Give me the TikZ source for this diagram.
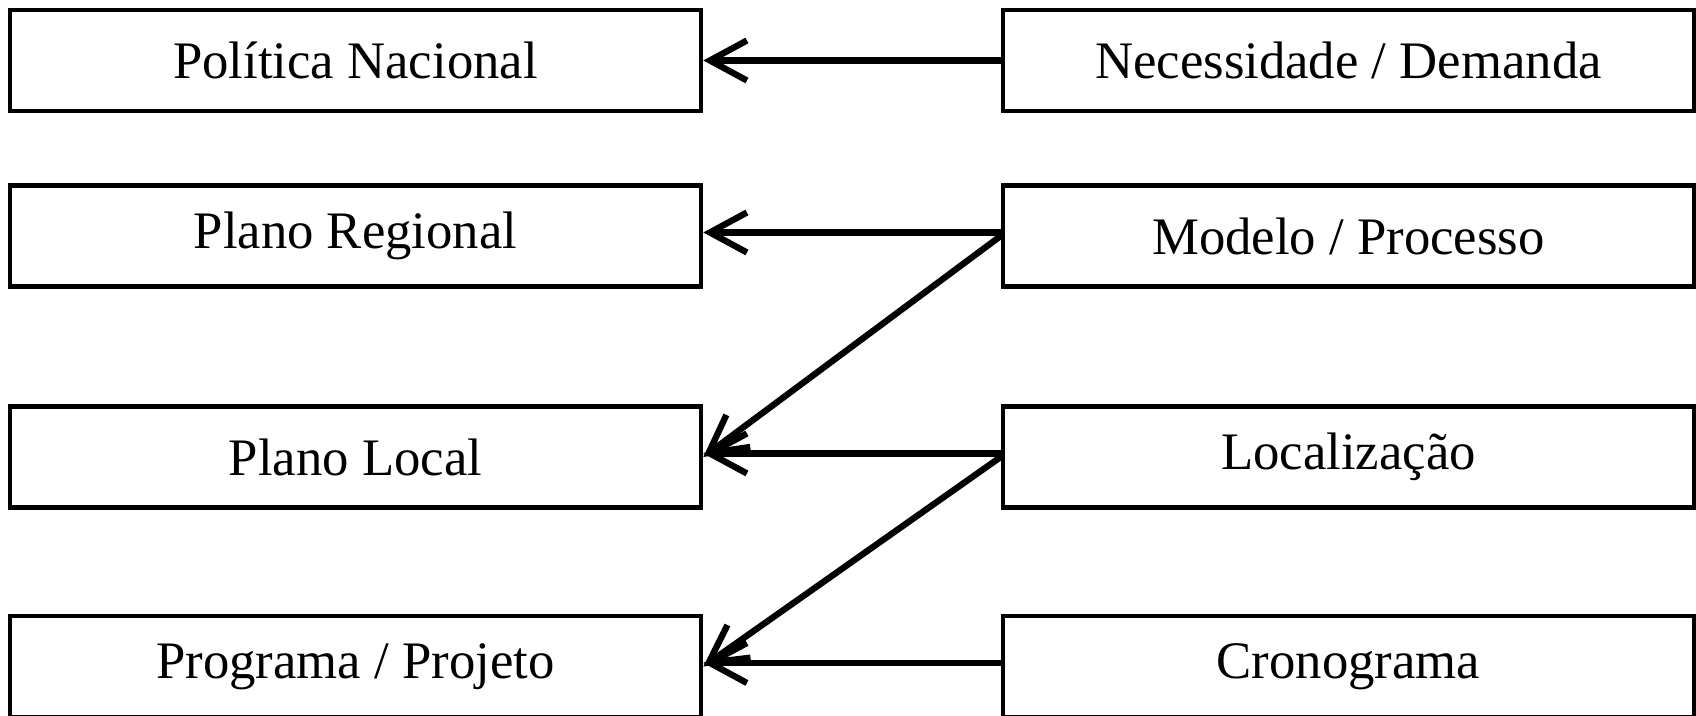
\documentclass[tikz,border=0pt]{standalone}
\usepackage{fontspec}
\setmainfont{Liberation Serif}
\usetikzlibrary{arrows.meta}
\begin{document}
\begin{tikzpicture}[
  caixa/.style={draw, line width=1.3pt, minimum width=6.91cm, minimum height=1.01cm, inner sep=0pt, font=\fontsize{15}{18}\selectfont},
  seta/.style={draw, line width=1.8pt, -{Straight Barb[length=0.37cm, width=0.4cm, line width=1.8pt]}}]
\useasboundingbox (0,0) rectangle (16.96,7.16);
\node[caixa] (1) at (3.555,6.555) {Política Nacional};
\node[caixa] (2) at (3.555,4.80) {Plano Regional};
\node[caixa] (3) at (3.555,2.59) {Plano Local};
\node[caixa] (4) at (3.555,0.495) {Programa / Projeto};
\node[caixa] (5) at (13.485,6.555) {Necessidade / Demanda};
\node[caixa] (6) at (13.485,4.80) {Modelo / Processo};
\node[caixa] (7) at (13.485,2.59) {Localização};
\node[caixa] (8) at (13.485,0.495) {Cronograma};

\path[seta] (5) -- (1);
\path[seta] ([yshift=1pt]6.west) -- ([yshift=1pt]2.east);
\path[seta] (6.west) -- (3.east);
\path[seta] ([yshift=1pt]7.west) -- ([yshift=1pt]3.east);
\path[seta] (7.west) -- (4.east);
\path[seta] ([yshift=1pt]8.west) -- ([yshift=1pt]4.east);
\end{tikzpicture}
\end{document}
